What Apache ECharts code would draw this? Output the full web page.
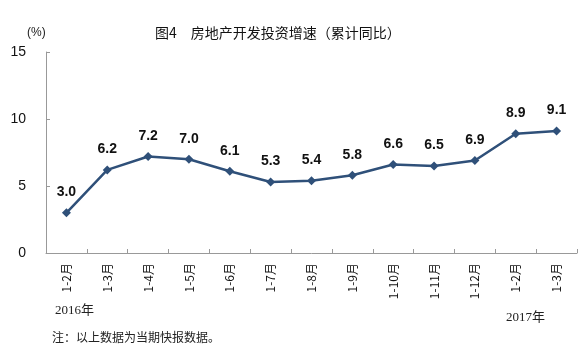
<!DOCTYPE html>
<html><head><meta charset="utf-8">
<script src="https://cdn.jsdelivr.net/npm/echarts@6/dist/echarts.min.js"></script>
<style>html,body{margin:0;padding:0;background:#fff}#c{width:587px;height:357px}</style>
</head><body><div id="c"></div>
<script>
var categories = ['1-2月','1-3月','1-4月','1-5月','1-6月','1-7月','1-8月','1-9月','1-10月','1-11月','1-12月','1-2月','1-3月'];
var values = [3.0, 6.2, 7.2, 7.0, 6.1, 5.3, 5.4, 5.8, 6.6, 6.5, 6.9, 8.9, 9.1];
var yTicks = [0, 5, 10, 15];
var titleText = '图4\u3000房地产开发投资增速（累计同比）';
var noteText = '注：以上数据为当期快报数据。';
var chart = echarts.init(document.getElementById('c'));
var cjk = '"Noto Sans CJK SC", sans-serif';
chart.setOption({
  animation: false,
  backgroundColor: '#fff',
  title: {
    text: titleText, left: 150, top: 21,
    textStyle: {fontFamily: cjk, fontSize: 14, fontWeight: 'normal', color: '#111'}
  },
  graphic: [
    {type: 'text', left: 27, top: 27, style: {text: '(%)', font: '12px "Liberation Sans", Arial', fill: '#222'}},
    {type: 'text', left: 55, top: 304, style: {text: '2016年', font: '13px "Liberation Serif", ' + cjk, fill: '#222'}},
    {type: 'text', left: 506, top: 311, style: {text: '2017年', font: '13px "Liberation Serif", ' + cjk, fill: '#222'}},
    {type: 'text', left: 52, top: 331, style: {text: noteText, font: '12px ' + cjk, fill: '#222'}}
  ],
  grid: {left: 46, right: 10, top: 52, bottom: 104},
  xAxis: {
    type: 'category', data: categories, boundaryGap: true,
    axisLine: {lineStyle: {color: '#999'}},
    axisTick: {show: true, alignWithLabel: false, length: 4, inside: true, lineStyle: {color: '#999'}},
    axisLabel: {rotate: 90, margin: 10, fontFamily: cjk, fontSize: 12, color: '#111', interval: 0}
  },
  yAxis: {
    type: 'value', min: 0, max: 15, interval: 5,
    axisLine: {show: true, lineStyle: {color: '#999'}},
    axisTick: {show: true, inside: true, length: 4, lineStyle: {color: '#999'}},
    splitLine: {show: false},
    axisLabel: {margin: 20, fontFamily: '"Liberation Sans", Arial', fontSize: 14, color: '#111'}
  },
  series: [{
    type: 'line', data: values,
    symbol: 'diamond', symbolSize: 9,
    lineStyle: {color: '#2f5079', width: 2.5},
    itemStyle: {color: '#2f5079'},
    label: {show: true, position: 'top', distance: 9, formatter: function(p){return p.value.toFixed(1);},
      fontFamily: '"Liberation Sans", Arial', fontSize: 14, fontWeight: 'bold', color: '#111'}
  }]
});
</script></body></html>
